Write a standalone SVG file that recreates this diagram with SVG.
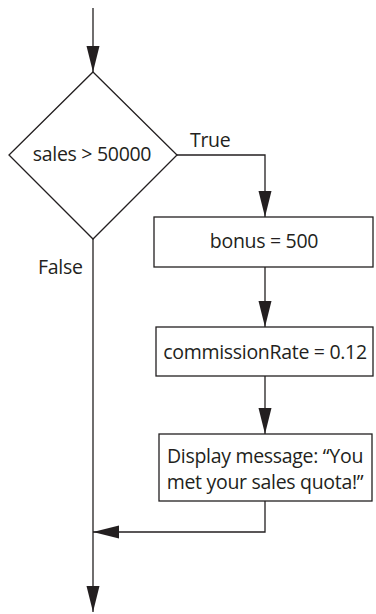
<svg xmlns="http://www.w3.org/2000/svg" width="376" height="614" viewBox="0 0 376 614">
<style>
.shape{fill:#fff;stroke:#231f20;stroke-width:1.3}
.line{fill:none;stroke:#231f20;stroke-width:1.3}
text{font-family:"Open Sans","Liberation Sans",Arial,sans-serif;font-size:19.5px;letter-spacing:-0.3px;fill:#231f20}
.c{text-anchor:middle}
</style>
<defs>
<marker id="arrow" markerUnits="userSpaceOnUse" markerWidth="27" markerHeight="14" refX="26" refY="7" orient="auto" viewBox="0 0 27 14">
<path d="M0,0.5 L26,7 L0,13.5 Z" fill="#231f20"/>
</marker>
</defs>
<g id="connectors">
<path class="line" d="M93,8 V72" marker-end="url(#arrow)"/>
<path class="line" d="M177,155 H265 V217" marker-end="url(#arrow)"/>
<path class="line" d="M265,267 V327" marker-end="url(#arrow)"/>
<path class="line" d="M265,376 V434" marker-end="url(#arrow)"/>
<path class="line" d="M265,501 V532 H93" marker-end="url(#arrow)"/>
<path class="line" d="M93,239 V612" marker-end="url(#arrow)"/>
</g>
<g id="decision">
<path class="shape" d="M93,72 L177,155 L93,239 L9,155 Z"/>
<text class="c" x="92" y="161">sales &gt; 50000</text>
</g>
<g id="label-true"><text x="190" y="147">True</text></g>
<g id="label-false"><text x="38" y="274">False</text></g>
<g id="bonus">
<rect class="shape" x="154" y="217" width="219" height="50"/>
<text class="c" x="264" y="248">bonus = 500</text>
</g>
<g id="commission">
<rect class="shape" x="156" y="327" width="217" height="49"/>
<text class="c" x="265" y="359">commissionRate = 0.12</text>
</g>
<g id="display">
<rect class="shape" x="159" y="434" width="213" height="67"/>
<text class="c" x="265" y="463">Display message: “You</text>
<text class="c" x="265" y="489">met your sales quota!”</text>
</g>
</svg>
